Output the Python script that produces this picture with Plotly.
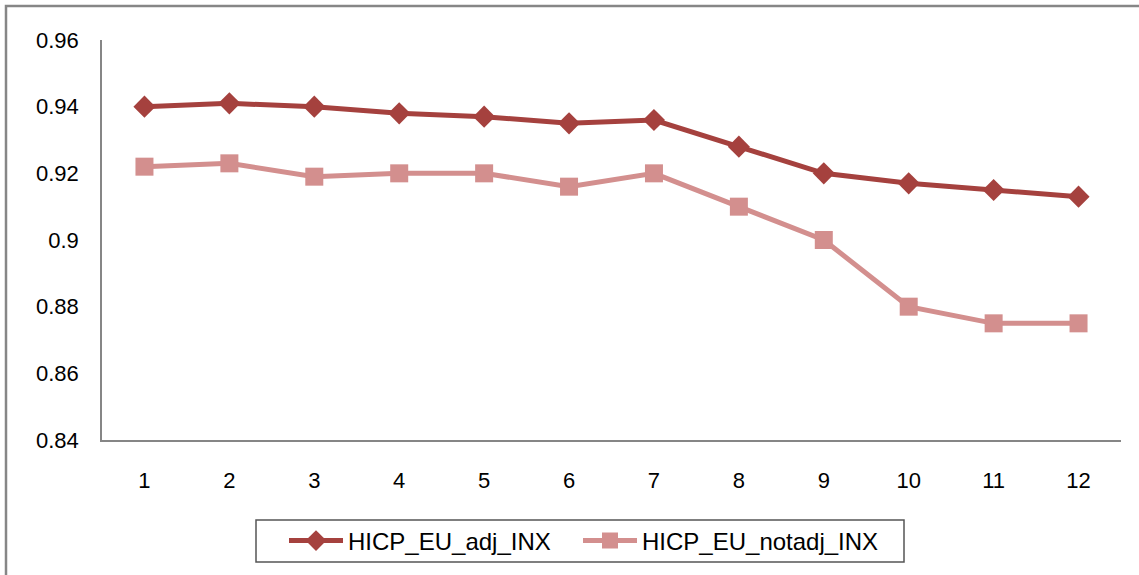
import plotly.graph_objects as go

months = [1, 2, 3, 4, 5, 6, 7, 8, 9, 10, 11, 12]
hicp_adj = [0.940, 0.941, 0.940, 0.938, 0.937, 0.935, 0.936, 0.928, 0.920, 0.917, 0.915, 0.913]
hicp_notadj = [0.922, 0.923, 0.919, 0.920, 0.920, 0.916, 0.920, 0.910, 0.900, 0.880, 0.875, 0.875]
y_ticks = [0.84, 0.86, 0.88, 0.90, 0.92, 0.94, 0.96]
y_tick_text = ["0.84", "0.86", "0.88", "0.9", "0.92", "0.94", "0.96"]

FONT = "Liberation Sans, Arial, sans-serif"

fig = go.Figure()
fig.add_trace(go.Scatter(
    x=months, y=hicp_adj, name="HICP_EU_adj_INX", mode="lines+markers",
    line=dict(color="#A5413E", width=5),
    marker=dict(symbol="diamond", size=17, color="#A5413E"),
    legend="legend",
))
fig.add_trace(go.Scatter(
    x=months, y=hicp_notadj, name="HICP_EU_notadj_INX", mode="lines+markers",
    line=dict(color="#D38F8E", width=5),
    marker=dict(symbol="square", size=18, color="#D38F8E"),
    legend="legend2",
))

L, R, T, B = 102, 18, 40, 135
W, H = 1139, 575
pw, ph = W - L - R, H - T - B

def px_x(x):
    return (x - L) / pw

def px_y(y):
    return (H - B - y) / ph

legend_common = dict(
    orientation="h", y=px_y(541), xanchor="left", yanchor="middle",
    borderwidth=0, bgcolor="rgba(0,0,0,0)",
    font=dict(family=FONT, size=24, color="black"),
    itemwidth=54,
)

fig.update_layout(
    width=W, height=H,
    margin=dict(l=L, r=R, t=T, b=B),
    paper_bgcolor="white", plot_bgcolor="white",
    font=dict(family=FONT, size=22, color="black"),
    showlegend=True,
    legend=dict(x=px_x(284), **legend_common),
    legend2=dict(x=px_x(578), **legend_common),
    xaxis=dict(
        range=[0.5, 12.5], tickmode="array", tickvals=months,
        ticktext=[str(m) for m in months],
        showgrid=False, zeroline=False, showline=True, linecolor="#868686", linewidth=1.5,
        ticks="", ticklabelstandoff=20, tickfont=dict(size=22),
    ),
    yaxis=dict(
        range=[0.84, 0.96], tickmode="array", tickvals=y_ticks, ticktext=y_tick_text,
        showgrid=False, zeroline=False, showline=True, linecolor="#868686", linewidth=1.5,
        ticks="", ticklabelstandoff=17, tickfont=dict(size=22),
    ),
    shapes=[
        dict(
            type="rect", xref="paper", yref="paper",
            x0=px_x(6), x1=px_x(1150), y0=px_y(590), y1=px_y(6),
            line=dict(color="#868686", width=2.5), fillcolor="rgba(0,0,0,0)", layer="below",
        ),
        dict(
            type="rect", xref="paper", yref="paper",
            x0=px_x(256), x1=px_x(904), y0=px_y(562), y1=px_y(520),
            line=dict(color="#555555", width=1.5), fillcolor="white", layer="below",
        ),
    ],
)

fig.write_html(
    "out.html",
    config={"displayModeBar": False},
    post_script="document.body.style.margin='0';document.body.style.overflow='hidden';",
)
